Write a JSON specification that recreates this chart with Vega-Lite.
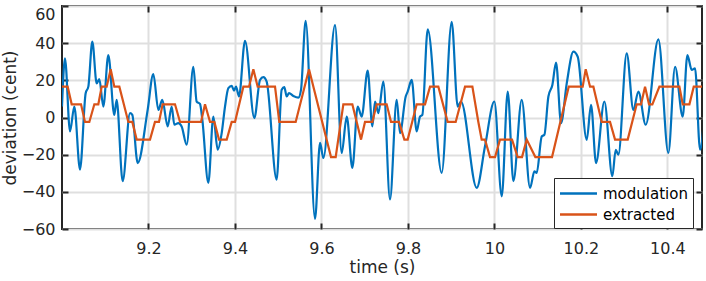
{
  "$schema": "https://vega.github.io/schema/vega-lite/v6.json",
  "width": 640,
  "height": 223,
  "autosize": "none",
  "padding": {"left": 62, "top": 6, "right": 4, "bottom": 52},
  "background": "white",
  "config": {
    "view": {"stroke": "#262626", "strokeWidth": 2},
    "font": "DejaVu Sans",
    "axis": {
      "domain": false,
      "labelColor": "#262626",
      "titleColor": "#262626",
      "labelFont": "DejaVu Sans",
      "labelFontSize": 16,
      "titleFont": "DejaVu Sans",
      "titleFontSize": 17,
      "titleFontWeight": "normal",
      "gridColor": "#dfdfdf",
      "gridWidth": 2,
      "gridOpacity": 1,
      "tickColor": "#262626",
      "tickWidth": 2,
      "tickSize": -6
    }
  },
  "datasets": {
    "mod": [
      {"t": 9.0, "v": 5.9}, {"t": 9.0069, "v": 31.8}, {"t": 9.0185, "v": -7.5}, {"t": 9.0285, "v": 5.9},
      {"t": 9.0416, "v": -28.0}, {"t": 9.0547, "v": 13.1}, {"t": 9.0609, "v": 16.6}, {"t": 9.0701, "v": 40.8},
      {"t": 9.0802, "v": 18.4}, {"t": 9.0863, "v": 20.6}, {"t": 9.0956, "v": 5.9}, {"t": 9.1071, "v": 33.6},
      {"t": 9.121, "v": 1.4}, {"t": 9.1264, "v": 9.5}, {"t": 9.1403, "v": -34.3}, {"t": 9.1573, "v": 2.4},
      {"t": 9.1626, "v": 1.4}, {"t": 9.175, "v": -24.5}, {"t": 9.1981, "v": 4.1}, {"t": 9.2112, "v": 23.4},
      {"t": 9.2228, "v": 4.1}, {"t": 9.232, "v": 9.5}, {"t": 9.2444, "v": -4.8}, {"t": 9.2536, "v": 5.9},
      {"t": 9.2598, "v": -3.9}, {"t": 9.269, "v": -3.0}, {"t": 9.2767, "v": -4.8}, {"t": 9.2883, "v": -14.6},
      {"t": 9.3037, "v": 27.3}, {"t": 9.3114, "v": 8.6}, {"t": 9.3191, "v": 7.3}, {"t": 9.3245, "v": -1.2},
      {"t": 9.3384, "v": -35.2}, {"t": 9.35, "v": 0.5}, {"t": 9.36, "v": -17.3}, {"t": 9.3693, "v": -8.4},
      {"t": 9.377, "v": 5.9}, {"t": 9.3847, "v": 15.8}, {"t": 9.3924, "v": 17.0}, {"t": 9.3978, "v": 14.5},
      {"t": 9.4024, "v": 16.6}, {"t": 9.4093, "v": 11.3}, {"t": 9.4232, "v": 41.3}, {"t": 9.4448, "v": -0.3},
      {"t": 9.4579, "v": 20.2}, {"t": 9.4656, "v": 21.7}, {"t": 9.4733, "v": 19.3}, {"t": 9.4964, "v": -33.4},
      {"t": 9.508, "v": 14.9}, {"t": 9.5142, "v": 16.3}, {"t": 9.5196, "v": 11.3}, {"t": 9.525, "v": 13.1},
      {"t": 9.535, "v": 11.6}, {"t": 9.5466, "v": 10.7}, {"t": 9.5527, "v": 14.9}, {"t": 9.5635, "v": 52.0},
      {"t": 9.5851, "v": -54.5}, {"t": 9.5967, "v": -13.7}, {"t": 9.6044, "v": -21.8}, {"t": 9.6314, "v": 49.7},
      {"t": 9.6468, "v": -19.1}, {"t": 9.6584, "v": 0.5}, {"t": 9.6715, "v": -27.1}, {"t": 9.6838, "v": 5.9},
      {"t": 9.693, "v": 0.5}, {"t": 9.7069, "v": 25.2}, {"t": 9.7177, "v": -4.8}, {"t": 9.7239, "v": 8.6},
      {"t": 9.7316, "v": 2.4}, {"t": 9.7431, "v": 19.3}, {"t": 9.7585, "v": -44.1}, {"t": 9.774, "v": 9.5},
      {"t": 9.7817, "v": -8.4}, {"t": 9.7948, "v": 11.3}, {"t": 9.7994, "v": 13.9}, {"t": 9.8087, "v": 20.2},
      {"t": 9.8202, "v": -7.5}, {"t": 9.8279, "v": 0.5}, {"t": 9.8333, "v": 1.4}, {"t": 9.8457, "v": 47.4},
      {"t": 9.878, "v": -29.8}, {"t": 9.9012, "v": 51.5}, {"t": 9.915, "v": 5.9}, {"t": 9.9227, "v": 8.6},
      {"t": 9.959, "v": -37.9}, {"t": 9.9782, "v": -15.5}, {"t": 9.9998, "v": 8.6}, {"t": 10.0169, "v": -42.4},
      {"t": 10.0308, "v": 13.9}, {"t": 10.0438, "v": -34.3}, {"t": 10.0631, "v": 9.5}, {"t": 10.0824, "v": -37.9},
      {"t": 10.0924, "v": -29.0}, {"t": 10.0978, "v": -29.8}, {"t": 10.1094, "v": -10.2}, {"t": 10.1155, "v": -9.3},
      {"t": 10.1248, "v": 11.3}, {"t": 10.134, "v": 17.5}, {"t": 10.1425, "v": 29.5}, {"t": 10.1541, "v": -3.0},
      {"t": 10.1672, "v": 18.4}, {"t": 10.1826, "v": 35.4}, {"t": 10.1926, "v": 32.7}, {"t": 10.2134, "v": -12.0},
      {"t": 10.2234, "v": 6.8}, {"t": 10.235, "v": -24.5}, {"t": 10.2542, "v": 8.6}, {"t": 10.2727, "v": -31.6},
      {"t": 10.2804, "v": -17.4}, {"t": 10.2866, "v": -20.0}, {"t": 10.3059, "v": 34.5}, {"t": 10.3213, "v": 4.1},
      {"t": 10.3329, "v": 14.0}, {"t": 10.3498, "v": -3.9}, {"t": 10.3791, "v": 42.0}, {"t": 10.4022, "v": -19.1},
      {"t": 10.4177, "v": 27.3}, {"t": 10.4354, "v": 0.5}, {"t": 10.4462, "v": 33.6}, {"t": 10.4562, "v": 25.6},
      {"t": 10.4639, "v": 26.5}, {"t": 10.4755, "v": -17.3}, {"t": 10.487, "v": 5.9}
    ],
    "ext": [
      {"t": 9.0, "v": 16.6}, {"t": 9.0131, "v": 16.6}, {"t": 9.0224, "v": 7.1}, {"t": 9.044, "v": 7.1},
      {"t": 9.0532, "v": -2.4}, {"t": 9.0632, "v": -2.4}, {"t": 9.0748, "v": 7.1}, {"t": 9.084, "v": 7.1},
      {"t": 9.0918, "v": 16.6}, {"t": 9.1033, "v": 16.6}, {"t": 9.1126, "v": 26.0}, {"t": 9.121, "v": 16.6},
      {"t": 9.1326, "v": 16.6}, {"t": 9.1534, "v": -2.4}, {"t": 9.1626, "v": -2.4}, {"t": 9.1727, "v": -11.9},
      {"t": 9.2035, "v": -11.9}, {"t": 9.215, "v": -2.4}, {"t": 9.2243, "v": -2.4}, {"t": 9.2327, "v": 7.1},
      {"t": 9.2613, "v": 7.1}, {"t": 9.2729, "v": -2.4}, {"t": 9.3215, "v": -2.4}, {"t": 9.3307, "v": 7.1},
      {"t": 9.3423, "v": -2.4}, {"t": 9.3523, "v": -2.4}, {"t": 9.3631, "v": -11.9}, {"t": 9.3809, "v": -11.9},
      {"t": 9.3924, "v": -2.4}, {"t": 9.4001, "v": -2.4}, {"t": 9.4194, "v": 16.6}, {"t": 9.4325, "v": 16.6},
      {"t": 9.4425, "v": 26.0}, {"t": 9.4525, "v": 16.6}, {"t": 9.4926, "v": 16.6}, {"t": 9.5025, "v": -2.4},
      {"t": 9.5404, "v": -2.4}, {"t": 9.5712, "v": 26.0}, {"t": 9.6221, "v": -21.3}, {"t": 9.6329, "v": -21.3},
      {"t": 9.6506, "v": 7.1}, {"t": 9.6714, "v": 7.1}, {"t": 9.6915, "v": -11.9}, {"t": 9.7007, "v": -2.4},
      {"t": 9.7177, "v": -2.4}, {"t": 9.7277, "v": 7.1}, {"t": 9.7508, "v": 7.1}, {"t": 9.7609, "v": -2.4},
      {"t": 9.7794, "v": -2.4}, {"t": 9.7917, "v": -11.9}, {"t": 9.7994, "v": -11.9}, {"t": 9.8202, "v": 7.1},
      {"t": 9.8395, "v": 7.1}, {"t": 9.8511, "v": 16.6}, {"t": 9.8703, "v": 16.6}, {"t": 9.8919, "v": -2.4},
      {"t": 9.9104, "v": -2.4}, {"t": 9.932, "v": 16.6}, {"t": 9.949, "v": 16.6}, {"t": 9.9628, "v": -2.4},
      {"t": 9.9705, "v": -11.9}, {"t": 9.9782, "v": -11.9}, {"t": 9.9898, "v": -21.3}, {"t": 10.0014, "v": -21.3},
      {"t": 10.0129, "v": -11.9}, {"t": 10.0407, "v": -11.9}, {"t": 10.0538, "v": -21.3}, {"t": 10.0638, "v": -21.3},
      {"t": 10.0746, "v": -11.9}, {"t": 10.0946, "v": -21.3}, {"t": 10.1332, "v": -21.3}, {"t": 10.1718, "v": 16.6},
      {"t": 10.2041, "v": 16.6}, {"t": 10.2111, "v": 26.0}, {"t": 10.2211, "v": 16.6}, {"t": 10.2288, "v": 16.6},
      {"t": 10.2481, "v": -2.4}, {"t": 10.2673, "v": -2.4}, {"t": 10.2789, "v": -11.9}, {"t": 10.3082, "v": -11.9},
      {"t": 10.329, "v": 7.1}, {"t": 10.339, "v": 7.1}, {"t": 10.3483, "v": 16.6}, {"t": 10.3575, "v": 7.1},
      {"t": 10.3652, "v": 7.1}, {"t": 10.3815, "v": 16.6}, {"t": 10.4277, "v": 16.6}, {"t": 10.4355, "v": 7.1},
      {"t": 10.4509, "v": 7.1}, {"t": 10.4609, "v": 16.6}, {"t": 10.49, "v": 16.6}
    ]
  },
  "layer": [
    {
      "data": {"name": "mod"},
      "mark": {"type": "line", "interpolate": "monotone", "strokeWidth": 2.2, "clip": true},
      "encoding": {
        "x": {
          "field": "t", "type": "quantitative",
          "scale": {"domain": [9.0, 10.48], "nice": false, "zero": false},
          "axis": {"values": [9.2, 9.4, 9.6, 9.8, 10, 10.2, 10.4], "format": ".1~f", "title": "time (s)", "labelPadding": 17, "titlePadding": 3, "grid": true}
        },
        "y": {
          "field": "v", "type": "quantitative",
          "scale": {"domain": [-60, 60], "nice": false},
          "axis": {
            "values": [-60, -40, -20, 0, 20, 40, 60], "title": "deviation (cent)", "labelPadding": 13, "titlePadding": 2, "grid": true,
            "labelBaseline": {"condition": {"test": "datum.value == 60", "value": "top"}, "value": "middle"}
          }
        },
        "color": {
          "datum": "modulation", "type": "nominal",
          "scale": {"domain": ["modulation", "extracted"], "range": ["#0072BD", "#D95319"]},
          "legend": {
            "title": null, "orient": "none", "legendX": 492, "legendY": 172,
            "symbolType": "M-2,0H2", "symbolSize": 342, "symbolStrokeWidth": 2.5, "symbolOffset": 9,
            "symbolFillColor": "transparent",
            "labelFont": "DejaVu Sans", "labelFontSize": 15, "labelColor": "#000000",
            "strokeColor": "#262626", "fillColor": "white", "padding": 5, "rowPadding": 2, "labelOffset": 14
          }
        }
      }
    },
    {
      "data": {"name": "ext"},
      "mark": {"type": "line", "strokeWidth": 2.2, "clip": true},
      "encoding": {
        "x": {
          "field": "t", "type": "quantitative",
          "scale": {"domain": [9.0, 10.48], "nice": false, "zero": false},
          "axis": {"orient": "top", "values": [9.2, 9.4, 9.6, 9.8, 10, 10.2, 10.4], "labels": false, "title": null, "grid": false}
        },
        "y": {
          "field": "v", "type": "quantitative",
          "scale": {"domain": [-60, 60], "nice": false},
          "axis": {"orient": "right", "values": [-60, -40, -20, 0, 20, 40, 60], "labels": false, "title": null, "grid": false}
        },
        "color": {
          "datum": "extracted", "type": "nominal",
          "scale": {"domain": ["modulation", "extracted"], "range": ["#0072BD", "#D95319"]}
        }
      }
    }
  ],
  "resolve": {"axis": {"x": "independent", "y": "independent"}}
}
